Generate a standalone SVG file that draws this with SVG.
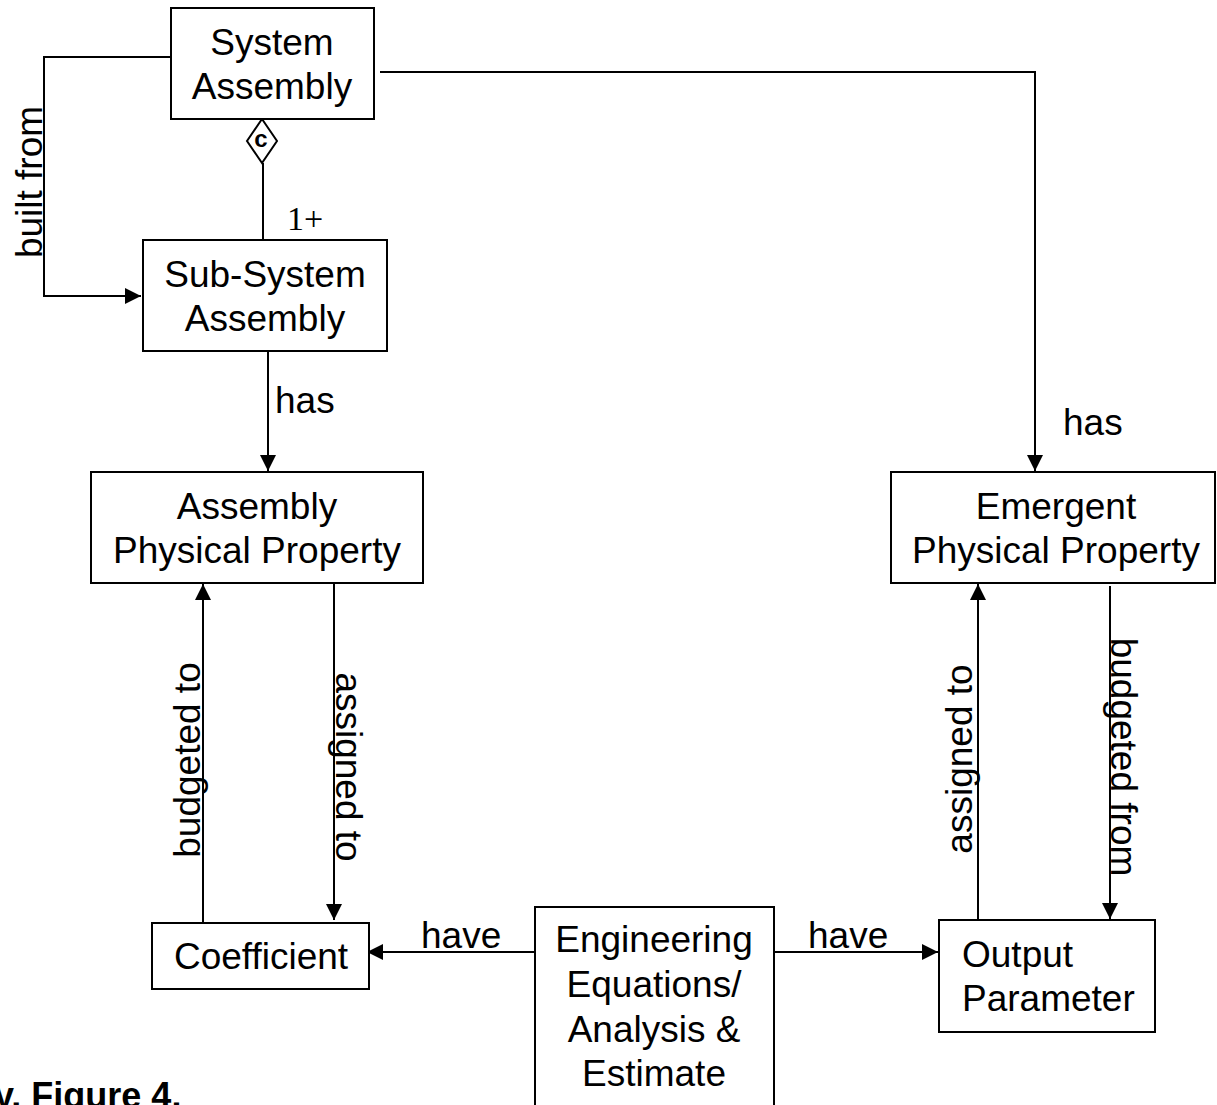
<svg xmlns="http://www.w3.org/2000/svg" width="1217" height="1105" viewBox="0 0 1217 1105">
  <style>
    .box { fill: #ffffff; stroke: #000000; stroke-width: 2; }
    .wire { fill: none; stroke: #000000; stroke-width: 2; }
    .lbl { font-family: "Liberation Sans", Arial, sans-serif; font-size: 37px; fill: #000000; }
    .mid { text-anchor: middle; }
  </style>
  <defs>
    <marker id="arrow" markerUnits="userSpaceOnUse" markerWidth="18" markerHeight="18" refX="16" refY="9" orient="auto">
      <path d="M0,1 L16,9 L0,17 z" fill="#000000"/>
    </marker>
  </defs>

  <rect width="1217" height="1105" fill="#ffffff"/>

  <!-- connectors -->
  <g id="connectors">
    <!-- built from -->
    <path class="wire" d="M171,57 H44 V296 H141" marker-end="url(#arrow)"/>
    <text class="lbl mid" x="42" y="182" transform="rotate(-90 42 182)">built from</text>

    <!-- composition: system assembly of sub-systems -->
    <line class="wire" x1="263" y1="163" x2="263" y2="240"/>
    <polygon points="262,119 277,141 262,163 247,141" fill="#ffffff" stroke="#000000" stroke-width="2"/>
    <text x="261" y="147" text-anchor="middle" font-family="Liberation Sans, Arial, sans-serif" font-weight="bold" font-size="24">c</text>
    <text x="287" y="230" font-family="Liberation Serif, 'Times New Roman', serif" font-size="34">1+</text>

    <!-- sub-system has assembly property -->
    <line class="wire" x1="268" y1="351" x2="268" y2="471" marker-end="url(#arrow)"/>
    <text class="lbl" x="275" y="413">has</text>

    <!-- system has emergent property -->
    <path class="wire" d="M380,72 H1035 V471" marker-end="url(#arrow)"/>
    <text class="lbl" x="1063" y="435">has</text>

    <!-- coefficient <-> assembly physical property -->
    <line class="wire" x1="203" y1="922" x2="203" y2="584" marker-end="url(#arrow)"/>
    <text class="lbl mid" x="200" y="760" transform="rotate(-90 200 760)">budgeted to</text>
    <line class="wire" x1="334" y1="583" x2="334" y2="920" marker-end="url(#arrow)"/>
    <text class="lbl mid" x="336" y="767" transform="rotate(90 336 767)">assigned to</text>

    <!-- output parameter <-> emergent physical property -->
    <line class="wire" x1="978" y1="920" x2="978" y2="584" marker-end="url(#arrow)"/>
    <text class="lbl mid" x="972" y="759" transform="rotate(-90 972 759)">assigned to</text>
    <line class="wire" x1="1110" y1="586" x2="1110" y2="919" marker-end="url(#arrow)"/>
    <text class="lbl mid" x="1111" y="757" transform="rotate(90 1111 757)">budgeted from</text>

    <!-- equations have coefficients / outputs -->
    <line class="wire" x1="540" y1="952" x2="367" y2="952" marker-end="url(#arrow)"/>
    <text class="lbl" x="421" y="948">have</text>
    <line class="wire" x1="774" y1="952" x2="938" y2="952" marker-end="url(#arrow)"/>
    <text class="lbl" x="808" y="948">have</text>
  </g>

  <!-- nodes -->
  <g id="system-assembly">
    <rect class="box" x="171" y="8" width="203" height="111"/>
    <text class="lbl mid" x="272" y="55">System</text>
    <text class="lbl mid" x="272" y="99">Assembly</text>
  </g>

  <g id="sub-system-assembly">
    <rect class="box" x="143" y="240" width="244" height="111"/>
    <text class="lbl mid" x="265" y="287">Sub-System</text>
    <text class="lbl mid" x="265" y="331">Assembly</text>
  </g>

  <g id="assembly-physical-property">
    <rect class="box" x="91" y="472" width="332" height="111"/>
    <text class="lbl mid" x="257" y="519">Assembly</text>
    <text class="lbl mid" x="257" y="563">Physical Property</text>
  </g>

  <g id="emergent-physical-property">
    <rect class="box" x="891" y="472" width="324" height="111"/>
    <text class="lbl mid" x="1056" y="519">Emergent</text>
    <text class="lbl mid" x="1056" y="563">Physical Property</text>
  </g>

  <g id="coefficient">
    <rect class="box" x="152" y="923" width="217" height="66"/>
    <text class="lbl mid" x="261" y="969">Coefficient</text>
  </g>

  <g id="engineering-equations">
    <rect class="box" x="535" y="907" width="239" height="210"/>
    <text class="lbl mid" x="654" y="952">Engineering</text>
    <text class="lbl mid" x="654" y="997">Equations/</text>
    <text class="lbl mid" x="654" y="1042">Analysis &amp;</text>
    <text class="lbl mid" x="654" y="1086">Estimate</text>
  </g>

  <g id="output-parameter">
    <rect class="box" x="939" y="920" width="216" height="112"/>
    <text class="lbl" x="962" y="967">Output</text>
    <text class="lbl" x="962" y="1011">Parameter</text>
  </g>

  <!-- caption -->
  <text x="-6" y="1108" font-family="Liberation Sans, Arial, sans-serif" font-weight="bold" font-size="36">y. Figure 4.</text>
</svg>
